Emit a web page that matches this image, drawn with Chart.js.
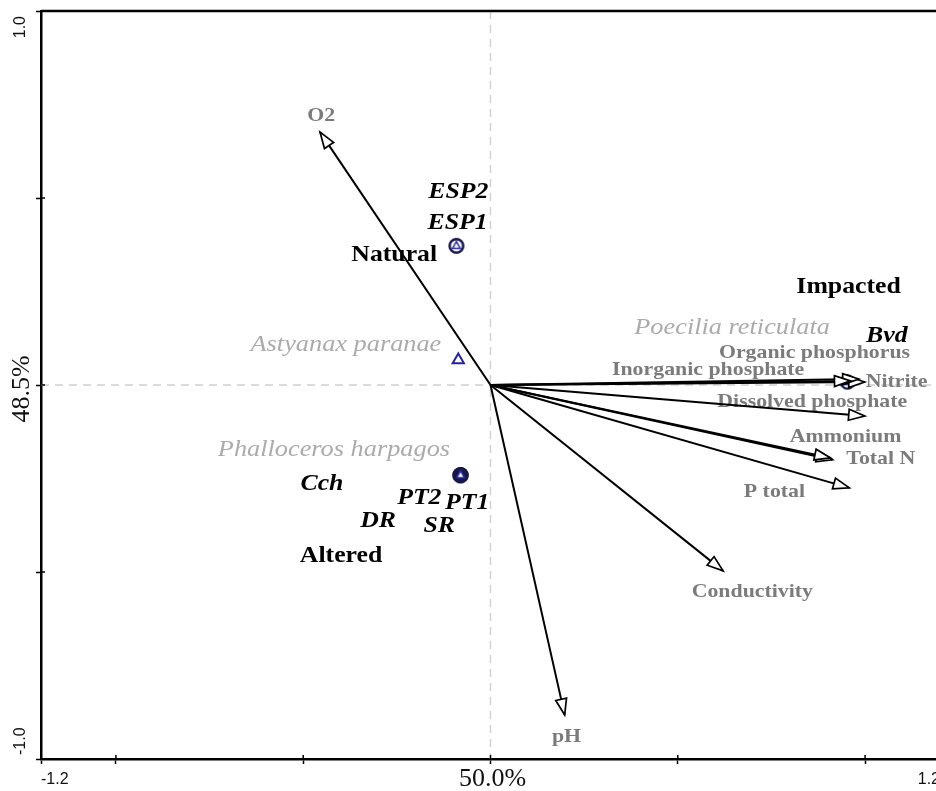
<!DOCTYPE html>
<html>
<head>
<meta charset="utf-8">
<script src="https://cdn.jsdelivr.net/npm/chart.js@4"></script>
<style>
  html, body { margin: 0; padding: 0; background: #fff; overflow: hidden; }
  #wrap { width: 950px; height: 791px; position: relative; }
</style>
</head>
<body>
<div id="wrap"><canvas id="biplot"></canvas></div>
<script>
// environmental variables (arrow tips)
const envNames = ['O2', 'pH', 'Conductivity', 'P total', 'Total N', 'Ammonium',
  'Dissolved phosphate', 'Nitrite', 'Organic phosphorus', 'Inorganic phosphate'];
const envX = [-0.455, 0.198, 0.621, 0.958, 0.913, 0.908, 0.999, 0.999, 0.983, 0.961];
const envY = [0.676, -0.882, -0.497, -0.275, -0.200, -0.195, -0.083, 0.008, 0.016, 0.011];

// sampling sites
const siteNames = ['ESP1', 'ESP2', 'Cch', 'PT1', 'PT2', 'DR', 'SR', 'Bvd'];
const siteGroup = ['Natural', 'Natural', 'Altered', 'Altered', 'Altered', 'Altered', 'Altered', 'Impacted'];
const siteX = [-0.091, -0.091, -0.080, -0.080, -0.080, -0.080, -0.080, 0.953];
const siteY = [0.372, 0.372, -0.241, -0.241, -0.241, -0.241, -0.241, 0.008];

// fish species
const speciesNames = ['Astyanax paranae', 'Phalloceros harpagos', 'Poecilia reticulata'];
const speciesX = [-0.086, -0.080, 0.953];
const speciesY = [0.067, -0.241, 0.008];

// axis ticks
const xTicks = [-1.2, -1.0, -0.5, 0, 0.5, 1.0, 1.2];
const yTicks = [-1.0, -0.5, 0, 0.5, 1.0];
const xTickLabels = { '-1.2': '-1.2', '0': '50.0%', '1.2': '1.2' };
const yTickLabels = { '-1': '-1.0', '0': '48.5%', '1': '1.0' };

// text labels in the plot (anchor in axis units)
const labelText = ['O2', 'pH', 'Conductivity', 'P total', 'Total N', 'Ammonium',
  'Dissolved phosphate', 'Nitrite', 'Organic phosphorus', 'Inorganic phosphate',
  'ESP2', 'ESP1', 'Cch', 'PT2', 'PT1', 'DR', 'SR', 'Bvd',
  'Astyanax paranae', 'Phalloceros harpagos', 'Poecilia reticulata',
  'Natural', 'Altered', 'Impacted'];
const labelX = [-0.452, 0.203, 0.699, 0.758, 1.042, 0.948, 0.859, 1.084, 0.865, 0.581,
  -0.086, -0.088, -0.450, -0.190, -0.062, -0.300, -0.137, 1.058,
  -0.386, -0.418, 0.645, -0.257, -0.399, 0.956];
const labelY = [0.719, -0.941, -0.553, -0.286, -0.198, -0.139, -0.045, 0.008, 0.086, 0.040,
  0.516, 0.433, -0.265, -0.302, -0.316, -0.364, -0.377, 0.131,
  0.107, -0.174, 0.152, 0.348, -0.457, 0.262];
const labelKind = ['env', 'env', 'env', 'env', 'env', 'env', 'env', 'env', 'env', 'env',
  'site', 'site', 'site', 'site', 'site', 'site', 'site', 'site',
  'species', 'species', 'species', 'group', 'group', 'group'];

const SERIF = '"Liberation Serif", "Times New Roman", serif';
const labelStyle = {
  env: { font: 'bold 19.5px ' + SERIF, color: '#7b7b7b' },
  site: { font: 'bold italic 23px ' + SERIF, color: '#000' },
  species: { font: 'italic 23.5px ' + SERIF, color: '#ababab' },
  group: { font: 'bold 23px ' + SERIF, color: '#000' }
};

// site symbol: ring with a small triangle inside
function siteSymbol(filled) {
  const c = document.createElement('canvas');
  c.width = 18; c.height = 18;
  const g = c.getContext('2d');
  g.beginPath();
  g.arc(9, 9, 6.6, 0, Math.PI * 2);
  g.fillStyle = filled ? '#17174a' : '#fff';
  g.fill();
  g.lineWidth = 2.2;
  g.strokeStyle = '#17174a';
  g.stroke();
  g.beginPath();
  g.moveTo(9, 4.6); g.lineTo(12.8, 11.4); g.lineTo(5.2, 11.4); g.closePath();
  g.fillStyle = '#fff';
  g.fill();
  g.lineWidth = 1.5;
  g.strokeStyle = '#2a2aa8';
  g.stroke();
  return c;
}
const openSite = siteSymbol(false);
const filledSite = siteSymbol(true);

function drawLabel(ctx, text, x, y, style) {
  ctx.save();
  ctx.translate(x, y);
  ctx.scale(1.12, 1);
  ctx.font = style.font;
  ctx.fillStyle = style.color;
  ctx.textAlign = 'center';
  ctx.textBaseline = 'middle';
  ctx.fillText(text, 0, 0);
  ctx.restore();
}

const biplotPlugin = {
  id: 'biplot',
  beforeDatasetsDraw(chart) {
    const { ctx, chartArea: a, scales: { x, y } } = chart;
    ctx.save();
    ctx.strokeStyle = '#cfcfcf';
    ctx.lineWidth = 1.4;
    ctx.setLineDash([8, 6]);
    ctx.beginPath();
    ctx.moveTo(x.getPixelForValue(0), a.top);
    ctx.lineTo(x.getPixelForValue(0), a.bottom);
    ctx.moveTo(a.left, y.getPixelForValue(0));
    ctx.lineTo(a.right, y.getPixelForValue(0));
    ctx.stroke();
    ctx.restore();

    labelText.forEach((t, i) => {
      drawLabel(ctx, t, x.getPixelForValue(labelX[i]), y.getPixelForValue(labelY[i]), labelStyle[labelKind[i]]);
    });
  },
  afterDatasetsDraw(chart) {
    const ctx = chart.ctx;
    chart.data.datasets.forEach((ds, i) => {
      if (!ds.isArrow) return;
      const pts = chart.getDatasetMeta(i).data;
      const p0 = pts[0], p1 = pts[1];
      const ang = Math.atan2(p1.y - p0.y, p1.x - p0.x);
      const L = 16, W = 5.5;
      const bx = p1.x - L * Math.cos(ang), by = p1.y - L * Math.sin(ang);
      ctx.save();
      ctx.beginPath();
      ctx.moveTo(p1.x, p1.y);
      ctx.lineTo(bx + W * Math.sin(ang), by - W * Math.cos(ang));
      ctx.lineTo(bx - W * Math.sin(ang), by + W * Math.cos(ang));
      ctx.closePath();
      ctx.fillStyle = '#fff';
      ctx.fill();
      ctx.lineWidth = 1.7;
      ctx.strokeStyle = '#000';
      ctx.stroke();
      ctx.restore();
    });
  },
  afterDraw(chart) {
    const { ctx, chartArea: a, scales: { x, y } } = chart;
    ctx.save();
    // top and right edges of the frame
    ctx.strokeStyle = '#000';
    ctx.lineWidth = 2.5;
    ctx.beginPath();
    ctx.moveTo(a.left, a.top);
    ctx.lineTo(a.right, a.top);
    ctx.lineTo(a.right, a.bottom);
    ctx.stroke();
    // inner part of tick marks
    ctx.lineWidth = 1.5;
    ctx.beginPath();
    xTicks.forEach(v => { const px = x.getPixelForValue(v); ctx.moveTo(px, a.bottom); ctx.lineTo(px, a.bottom - 4); });
    yTicks.forEach(v => { const py = y.getPixelForValue(v); ctx.moveTo(a.left, py); ctx.lineTo(a.left + 4, py); });
    ctx.stroke();

    // x tick labels
    ctx.fillStyle = '#111';
    ctx.textBaseline = 'middle';
    xTicks.forEach(v => {
      const t = xTickLabels[String(v)];
      if (!t) return;
      const px = x.getPixelForValue(v);
      if (v === 0) {
        ctx.font = '26px ' + SERIF;
        ctx.textAlign = 'center';
        ctx.fillText(t, px + 2, a.bottom + 20);
      } else {
        ctx.font = '16px "Liberation Sans", Arial, sans-serif';
        ctx.textAlign = v < 0 ? 'left' : 'right';
        ctx.fillText(t, px, a.bottom + 21);
      }
    });
    // y tick labels, rotated
    yTicks.forEach(v => {
      const t = yTickLabels[String(v)];
      if (!t) return;
      const py = y.getPixelForValue(v);
      ctx.save();
      if (v === 0) {
        ctx.translate(22, py + 4);
        ctx.rotate(-Math.PI / 2);
        ctx.font = '26px ' + SERIF;
        ctx.textAlign = 'center';
      } else {
        ctx.translate(21, v > 0 ? py + 5 : py - 4);
        ctx.rotate(-Math.PI / 2);
        ctx.font = '16px "Liberation Sans", Arial, sans-serif';
        ctx.textAlign = v > 0 ? 'right' : 'left';
      }
      ctx.textBaseline = 'middle';
      ctx.fillText(t, 0, 0);
      ctx.restore();
    });
    ctx.restore();
  }
};

const datasets = [
  {
    label: 'Sites',
    data: siteX.map((v, i) => ({ x: v, y: siteY[i] })),
    pointStyle: c => siteGroup[c.dataIndex] === 'Altered' ? filledSite : openSite,
    pointRadius: 9,
    order: 0
  },
  {
    label: 'Species',
    data: speciesX.map((v, i) => ({ x: v, y: speciesY[i] })),
    pointStyle: 'triangle',
    pointRadius: 6.5,
    borderWidth: 2,
    borderColor: '#2424a0',
    backgroundColor: '#fff',
    order: 1
  }
];
envNames.forEach((name, i) => {
  datasets.push({
    label: name,
    isArrow: true,
    data: [{ x: 0, y: 0 }, { x: envX[i], y: envY[i] }],
    showLine: true,
    pointRadius: 0,
    borderColor: '#000',
    borderWidth: 2,
    order: 2
  });
});

const ctx = document.getElementById('biplot').getContext('2d');
new Chart(ctx, {
  type: 'scatter',
  data: { datasets: datasets },
  options: {
    responsive: true,
    maintainAspectRatio: false,
    animation: false,
    layout: { padding: { top: 11, right: 10, left: 0, bottom: 0 } },
    plugins: { legend: { display: false }, tooltip: { enabled: false } },
    scales: {
      x: {
        type: 'linear',
        min: -1.2,
        max: 1.2,
        afterBuildTicks: s => { s.ticks = xTicks.map(v => ({ value: v })); },
        afterFit: s => { s.height = 32; },
        ticks: { display: false },
        grid: { drawOnChartArea: false, tickLength: 5, tickColor: '#000', tickWidth: 1.5 },
        border: { color: '#000', width: 2.5 }
      },
      y: {
        type: 'linear',
        min: -1.0,
        max: 1.0,
        afterBuildTicks: s => { s.ticks = yTicks.map(v => ({ value: v })); },
        afterFit: s => { s.width = 41; },
        ticks: { display: false },
        grid: { drawOnChartArea: false, tickLength: 5, tickColor: '#000', tickWidth: 1.5 },
        border: { color: '#000', width: 2.5 }
      }
    }
  },
  plugins: [biplotPlugin]
});
</script>
</body>
</html>
